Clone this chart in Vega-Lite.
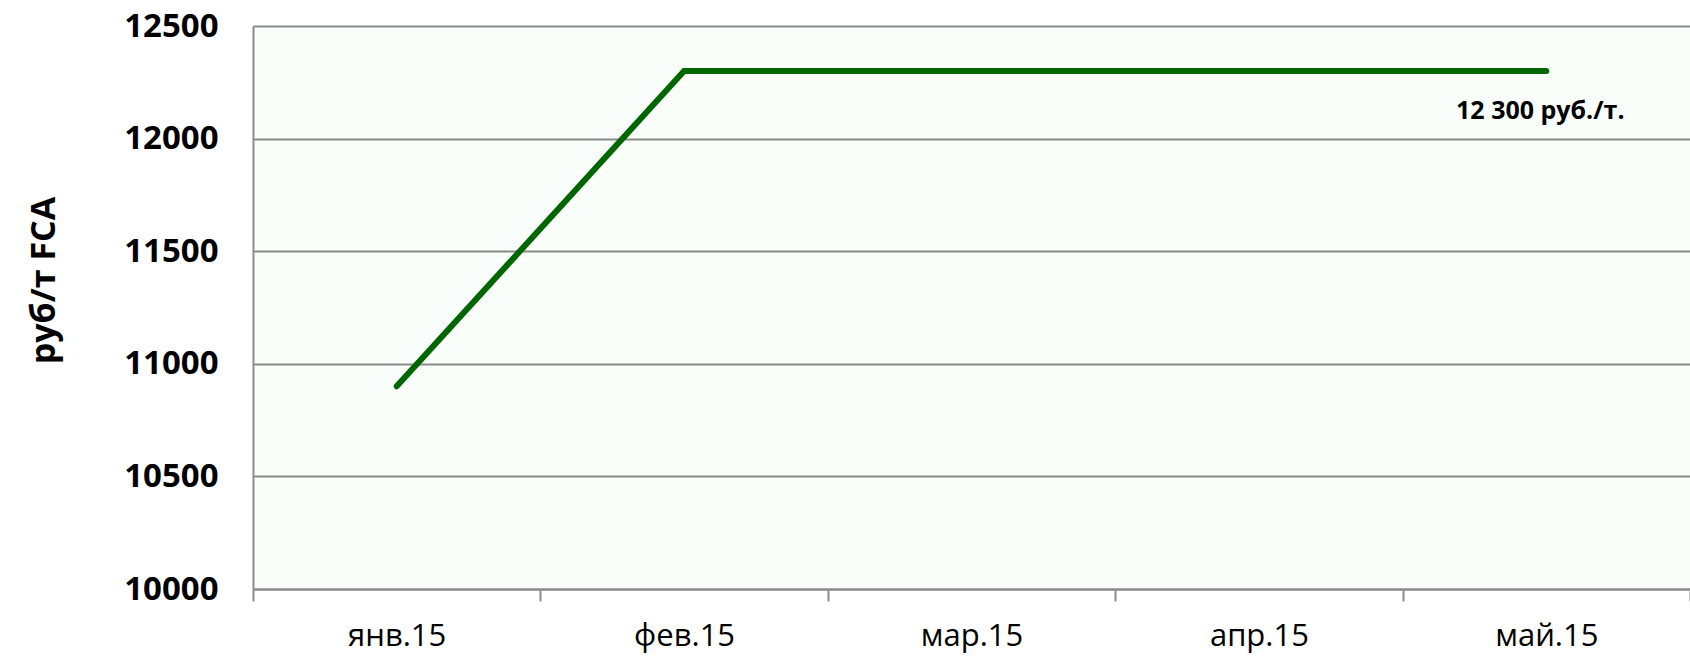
{
  "$schema": "https://vega.github.io/schema/vega-lite/v6.json",
  "autosize": {"type": "none"},
  "padding": {"left": 253, "top": 26, "right": 0, "bottom": 69},
  "width": 1437,
  "height": 563,
  "background": "white",
  "config": {
    "font": "Open Sans",
    "view": {"fill": "#fafefa", "stroke": null}
  },
  "data": {
    "values": [
      {"month": "янв.15", "value": 10900, "label": ""},
      {"month": "фев.15", "value": 12300, "label": ""},
      {"month": "мар.15", "value": 12300, "label": ""},
      {"month": "апр.15", "value": 12300, "label": ""},
      {"month": "май.15", "value": 12300, "label": "12 300 руб./т."}
    ]
  },
  "encoding": {
    "x": {
      "field": "month",
      "type": "ordinal",
      "sort": null,
      "scale": {"type": "band", "paddingInner": 0, "paddingOuter": 0},
      "axis": {
        "title": null,
        "labelAngle": 0,
        "labelFontSize": 31,
        "labelColor": "#000000",
        "labelPadding": 20,
        "tickBand": "extent",
        "tickSize": 12,
        "tickWidth": 2,
        "tickColor": "#8a8a8a",
        "domainColor": "#8a8a8a",
        "domainWidth": 2,
        "grid": false
      }
    },
    "y": {
      "field": "value",
      "type": "quantitative",
      "scale": {"domain": [10000, 12500], "nice": false, "zero": false},
      "axis": {
        "title": "руб/т FCA",
        "titleFontSize": 34,
        "titleFontWeight": "bold",
        "titleColor": "#000000",
        "titleBaseline": "middle",
        "titleX": -209,
        "titleY": 254,
        "values": [10000, 10500, 11000, 11500, 12000, 12500],
        "format": "d",
        "labelFontSize": 33,
        "labelFontWeight": "bold",
        "labelColor": "#000000",
        "labelPadding": 35,
        "ticks": false,
        "grid": true,
        "gridColor": "#8a8a8a",
        "gridWidth": 2,
        "domainColor": "#8a8a8a",
        "domainWidth": 2
      }
    }
  },
  "layer": [
    {
      "mark": {"type": "line", "color": "#006600", "strokeWidth": 6, "strokeCap": "round", "strokeJoin": "miter"}
    },
    {
      "transform": [{"filter": "datum.label != ''"}],
      "mark": {"type": "text", "fontSize": 25, "fontWeight": "bold", "color": "#000000", "dx": -6, "dy": 40},
      "encoding": {"text": {"field": "label"}}
    }
  ]
}
